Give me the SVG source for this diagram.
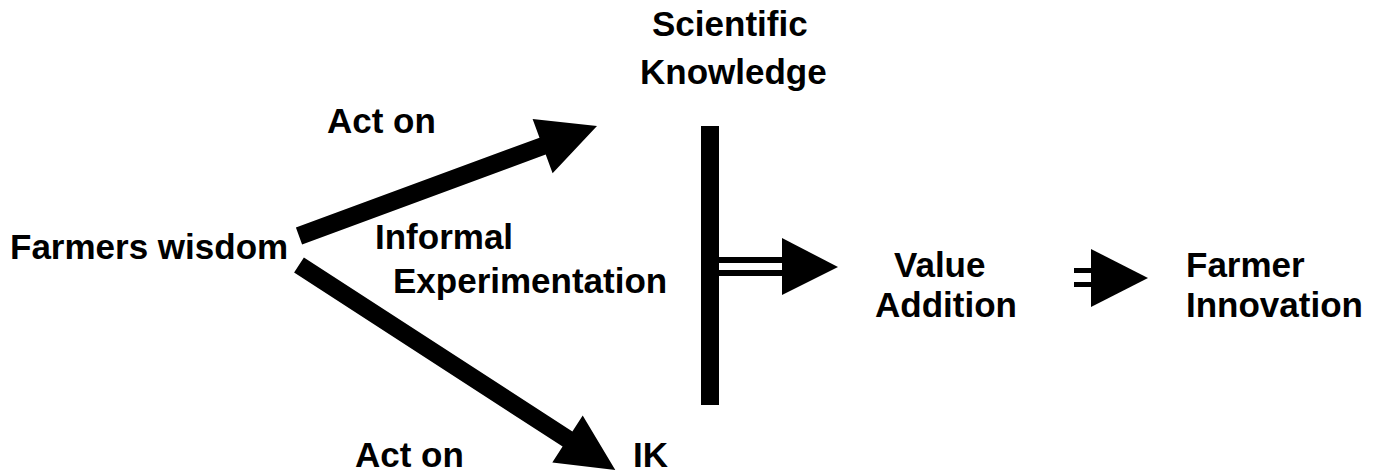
<svg xmlns="http://www.w3.org/2000/svg" width="1387" height="470" viewBox="0 0 1387 470">
<style>
text{font-family:"Liberation Sans",Arial,sans-serif;font-weight:bold;font-size:35px;fill:#000}
.c{fill:#000;stroke:none}
</style>
<rect width="1387" height="470" fill="#fff"/>
<g id="connectors">
<polygon class="c" points="295.9,227.6 539.5,137.7 532.6,118.9 597,126 552.6,173.3 545.7,154.5 302.1,244.4"/>
<polygon class="c" points="303.9,257.4 572.4,431.4 582.7,415.5 615.3,470 552.3,462.5 562.6,446.6 294.1,272.6"/>
<rect class="c" x="701" y="126" width="18" height="279"/>
<rect class="c" x="719" y="257" width="64" height="6"/>
<rect class="c" x="719" y="270" width="64" height="6"/>
<polygon class="c" points="782,238 838,267 782,295"/>
<rect class="c" x="1074" y="268" width="18" height="5"/>
<rect class="c" x="1074" y="282" width="18" height="5"/>
<polygon class="c" points="1091,249 1148,278 1091,307"/>
</g>
<g id="farmers-wisdom"><text x="10" y="259">Farmers wisdom</text></g>
<g id="scientific-knowledge"><text x="652" y="36">Scientific</text><text x="640" y="84">Knowledge</text></g>
<g id="act-on-top"><text x="327" y="133">Act on</text></g>
<g id="informal-experimentation"><text x="375" y="249">Informal</text><text x="393" y="293">Experimentation</text></g>
<g id="act-on-bottom"><text x="355" y="467">Act on</text></g>
<g id="ik"><text x="633" y="467">IK</text></g>
<g id="value-addition"><text x="894" y="277">Value</text><text x="875" y="317">Addition</text></g>
<g id="farmer-innovation"><text x="1186" y="277">Farmer</text><text x="1186" y="317">Innovation</text></g>
</svg>
